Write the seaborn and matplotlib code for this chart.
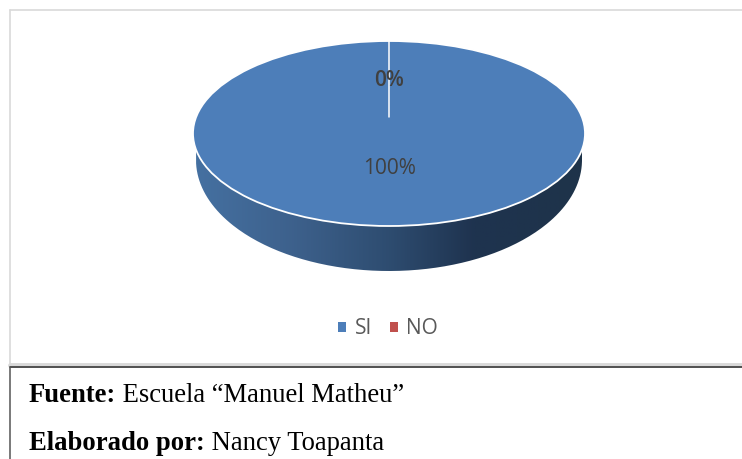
"""
Pie chart SI / NO with source table below
"""

import numpy as np
import matplotlib
matplotlib.use('Agg')
import matplotlib.pyplot as plt
from matplotlib.lines import Line2D
from matplotlib.patches import Ellipse, PathPatch
from matplotlib.path import Path
import seaborn as sns

categories = ['SI', 'NO']
values = [100, 0]
pct_labels = ['100%', '0%']
colors = ['#4D7EB9', '#C0504D']

sns.set_theme(style='white')
plt.rcParams['font.family'] = ['Open Sans', 'DejaVu Sans']

W, H = 742, 459
fig = plt.figure(figsize=(W / 100, H / 100), dpi=100, facecolor='white')


def fx(px):
    return px / W


def fy(py):
    return 1 - py / H


# pie axes: top face spans x 193-585, y 41-226, wall goes down to 271
ax = fig.add_axes([fx(193), fy(271), 392 / W, 230 / H])
wedges, _ = ax.pie(values, startangle=90, counterclock=False, colors=sns.color_palette(colors),
                   radius=1, center=(0, 0), wedgeprops={'linewidth': 0, 'zorder': 3})
ax.set_aspect('auto')
ax.set_xlim(-1, 1)
ax.set_ylim(-1 - 45 / 92.5, 1)
ax.axis('off')

# side wall of the 3d pie
rx, ry, cy = 193 / 196, 111 / 92.5, -26.5 / 92.5
t = np.linspace(np.pi, 2 * np.pi, 200)
wall = np.column_stack([rx * np.cos(t), cy + ry * np.sin(t)])
wall = np.vstack([[-rx, 0], wall, [rx, 0]])
wall_patch = PathPatch(Path(wall), fc='none', ec='none', transform=ax.transData)
ax.add_patch(wall_patch)
grad = np.array([[0.00, 0.27, 0.44, 0.63], [0.25, 0.24, 0.38, 0.55], [0.50, 0.18, 0.30, 0.44],
                 [0.72, 0.12, 0.20, 0.31], [1.00, 0.12, 0.20, 0.29]])
xs = np.linspace(0, 1, 256)
img = np.stack([np.interp(xs, grad[:, 0], grad[:, i]) for i in (1, 2, 3)], axis=-1)[None, :, :]
im = ax.imshow(img, extent=(-rx, rx, -1.5, 0.2), aspect='auto', zorder=1, clip_on=True)
im.set_clip_path(wall_patch)
ax.set_xlim(-1, 1)
ax.set_ylim(-1 - 45 / 92.5, 1)

# white rim and the line of the empty slice
ax.add_patch(Ellipse((0, 0), 2, 2, fc='none', ec='white', lw=1.3, zorder=4, clip_on=False))
ax.plot([0, 0], [1, 16.5 / 92.5], color='white', lw=1.1, zorder=4)

ax.text(0.005, -35 / 92.5, pct_labels[0], ha='center', va='center', fontsize=15, color='#404040', zorder=5)
ax.text(0, 53 / 92.5, pct_labels[1], ha='center', va='center', fontsize=15, color='#404040',
        fontweight='semibold', zorder=5)

leg = fig.legend(wedges, categories, loc='center', bbox_to_anchor=(fx(388), fy(329)), ncol=2, frameon=False,
                 fontsize=15, handlelength=0.4, handleheight=0.4, handletextpad=0.4, columnspacing=0.85,
                 labelcolor='#595959')

# chart frame and table lines
fig.add_artist(Line2D([fx(9.5), 1], [fy(9.5), fy(9.5)], color='#d9d9d9', lw=1.2))
fig.add_artist(Line2D([fx(9.5), fx(9.5)], [fy(9.5), fy(365)], color='#d9d9d9', lw=1.2))
fig.add_artist(Line2D([fx(9.5), 1], [fy(365), fy(365)], color='#d9d9d9', lw=3.5))
fig.add_artist(Line2D([fx(9.5), 1], [fy(366.5), fy(366.5)], color='#2b2b2b', lw=1.1))
fig.add_artist(Line2D([fx(9.5), fx(9.5)], [fy(366.5), 0], color='#555555', lw=1.1))

# source lines
for py, bold, plain in [(402, 'Fuente:', ' Escuela “Manuel Matheu”'), (450, 'Elaborado por:', ' Nancy Toapanta')]:
    t1 = fig.text(fx(29), fy(py), bold, fontsize=19.2, fontweight='bold', family='Liberation Serif',
                  color='black', va='baseline')
    ax.annotate(plain, xy=(1, 0), xycoords=t1, xytext=(0, 0), textcoords='offset points', fontsize=19.2,
                family='Liberation Serif', color='black', va='bottom', annotation_clip=False)

fig.savefig('out.png', dpi=100)
plt.close()
